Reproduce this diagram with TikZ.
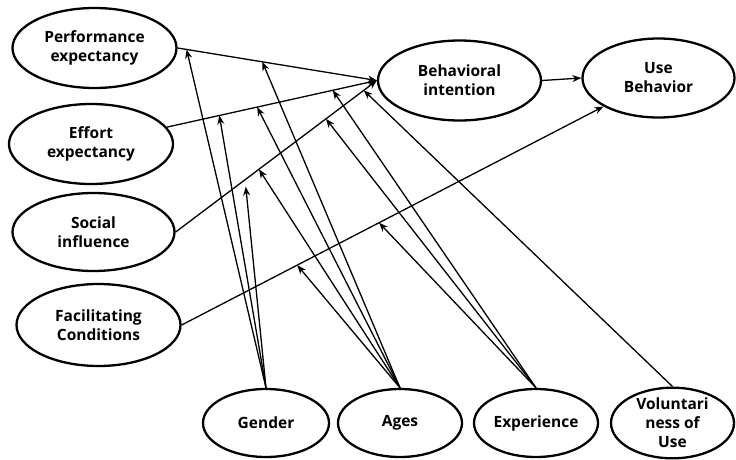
\documentclass[tikz,border=0pt]{standalone}
\usepackage{fontspec}
\setmainfont{Open Sans}
\usetikzlibrary{shapes.geometric,arrows.meta}
\begin{document}
\begin{tikzpicture}[x=1pt,y=-1pt,
  var/.style={ellipse,draw,line width=2.3pt,inner sep=0pt,align=center,
    font=\bfseries\fontsize{15.5}{19}\selectfont},
  conn/.style={line width=1.3pt,-{Stealth[length=9pt,width=7pt]}},
]
\useasboundingbox[fill=white] (0,0) rectangle (736,460);
\node[var,minimum width=164,minimum height=80] (pe) at (94.5,48) {Performance\\expectancy};
\node[var,minimum width=164,minimum height=80] (ee) at (91,144) {Effort\\expectancy};
\node[var,minimum width=162,minimum height=78] (si) at (93.5,232) {Social\\influence};
\node[var,minimum width=164,minimum height=82] (fc) at (98.5,325) {Facilitating\\Conditions};
\node[var,minimum width=163,minimum height=80] (bi) at (459.5,80.5) {Behavioral\\intention};
\node[var,minimum width=152,minimum height=79] (ub) at (658.5,78) {Use\\Behavior};
\node[var,minimum width=126,minimum height=68] (gen) at (266,423) {Gender};
\node[var,minimum width=124,minimum height=68] (age) at (400,423) {Ages};
\node[var,minimum width=124,minimum height=68] (exp) at (536,423) {Experience};
\node[var,minimum width=123,minimum height=68] (vol) at (672.5,423) {Voluntari\\ness of\\Use};

\draw[conn] (pe.east) -- (bi.west) coordinate[pos=0.045] (pe1) coordinate[pos=0.425] (pe2);
\draw[conn] (ee) -- (bi.west) coordinate[pos=0.25] (ee1) coordinate[pos=0.43] (ee2) coordinate[pos=0.79] (ee3);
\draw[conn] (si.east) -- (bi.west) coordinate[pos=0.345] (si1) coordinate[pos=0.414] (si2) coordinate[pos=0.747] (si3) coordinate[pos=0.935] (si4);
\draw[conn] (fc.east) -- (ub) coordinate[pos=0.274] (fc1) coordinate[pos=0.468] (fc2);
\draw[conn] (bi.east) -- (ub.west);

\draw[conn] (gen.north) -- (pe1);
\draw[conn] (gen.north) -- (ee1);
\draw[conn,shorten >=7pt] (gen.north) -- (si1);
\draw[conn] (age.north) -- (pe2);
\draw[conn] (age.north) -- (ee2);
\draw[conn] (age.north) -- (si2);
\draw[conn] (age.north) -- (fc1);
\draw[conn] (exp.north) -- (ee3);
\draw[conn] (exp.north) -- (si3);
\draw[conn] (exp.north) -- (fc2);
\draw[conn] (vol.north) -- (si4);
\end{tikzpicture}
\end{document}
